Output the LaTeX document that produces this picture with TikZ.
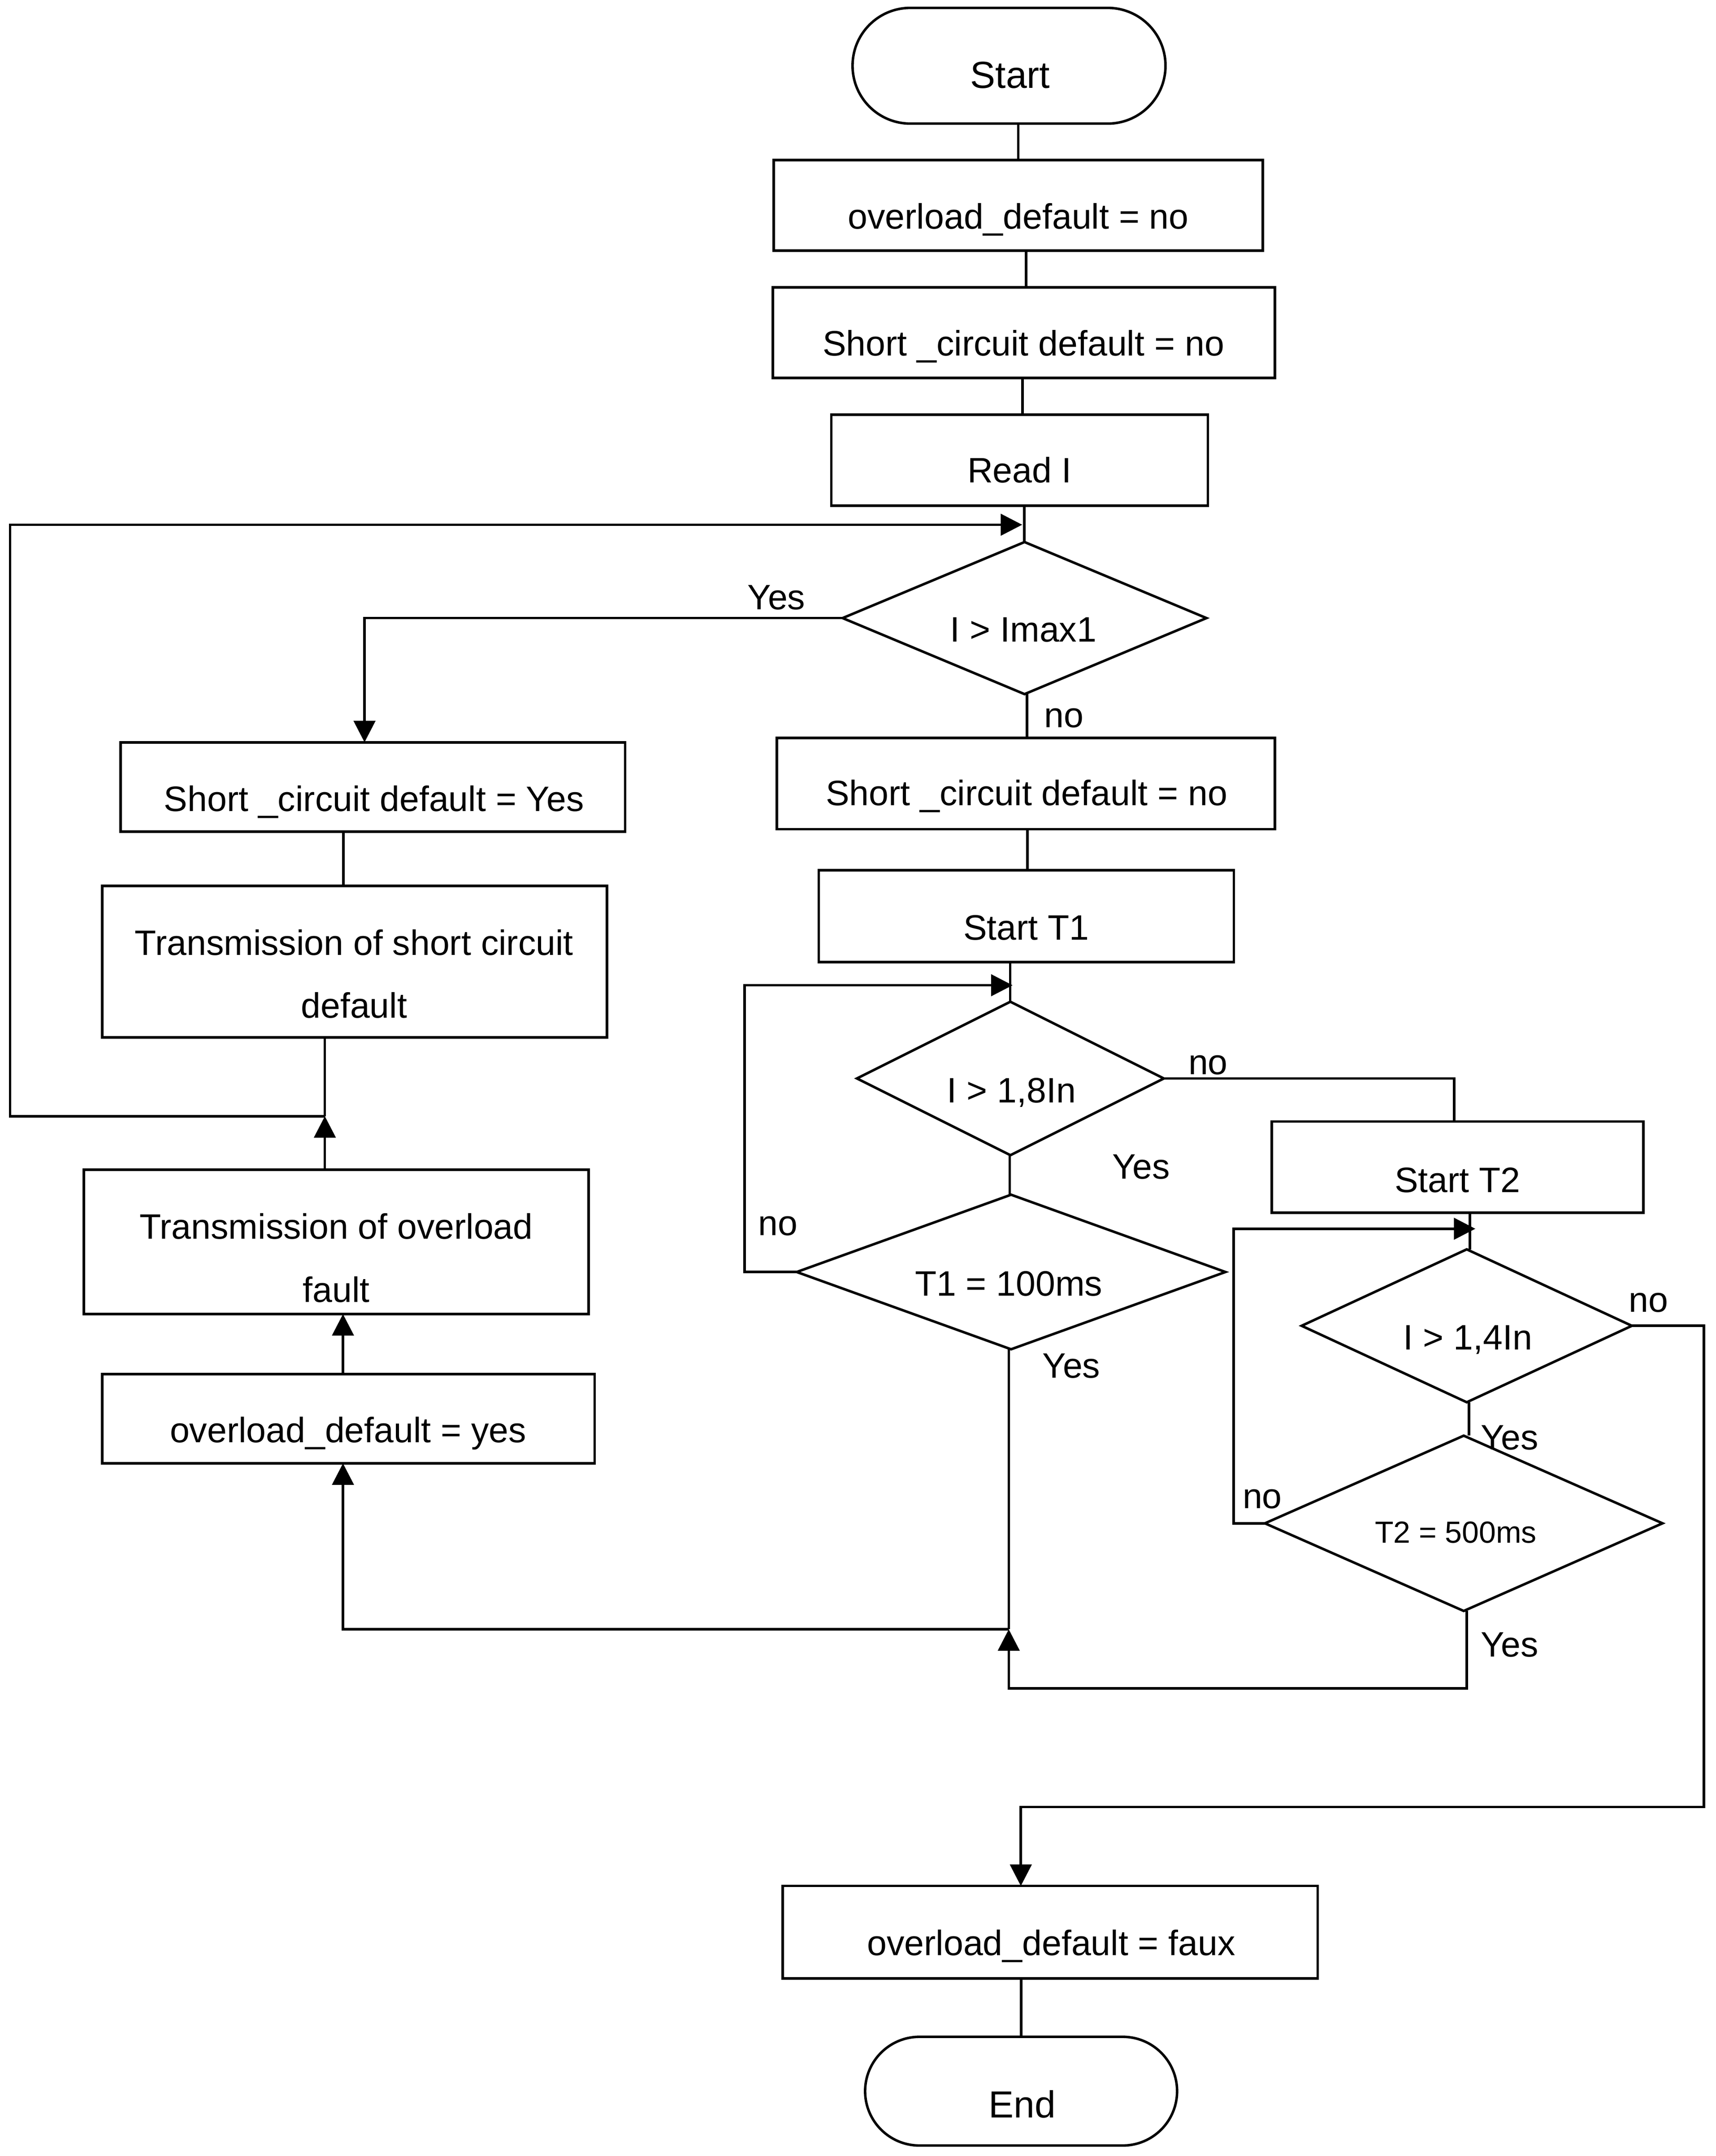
\documentclass[tikz,border=0pt]{standalone}
\usepackage{fontspec}
\setmainfont{Liberation Sans}
\usetikzlibrary{shapes.geometric,arrows.meta}
\begin{document}
\begin{tikzpicture}[x=0.7654pt,y=-0.7654pt,line width=1.4pt,
  sz/.style 2 args={minimum width=#1*0.7654pt,minimum height=#2*0.7654pt},
  procbox/.style={draw,rectangle,inner sep=0pt,outer sep=0pt},
  termbox/.style={draw,rectangle,inner sep=0pt,outer sep=0pt},
  decbox/.style={draw,diamond,inner sep=0pt,outer sep=0pt},
  txt/.style={font=\fontsize{19.7}{35.2}\selectfont,anchor=base,inner sep=0pt},
  bigtxt/.style={font=\fontsize{21}{25}\selectfont,anchor=base,inner sep=0pt},
  smalltxt/.style={font=\fontsize{17}{20}\selectfont,anchor=base,inner sep=0pt},
  lbl/.style={font=\fontsize{19.7}{24}\selectfont,anchor=base west,inner sep=0pt},
  arr/.style={-{Triangle[length=12pt,width=12pt]}}]
\useasboundingbox (0,0) rectangle (1250,1570.75);

% ---------- shapes ----------
\node[termbox,rounded corners=32.2pt,sz={228}{84.3}] (start) at (735.2,47.9) {};
\node[procbox,sz={356.3}{66}] (b1) at (741.9,149.6) {};
\node[procbox,sz={365.9}{66}] (b2) at (746,242.3) {};
\node[procbox,sz={274.3}{66.3}] (b3) at (742.9,335.2) {};
\node[decbox,sz={265.1}{110.8}] (d1) at (746.5,450.3) {};
\node[procbox,sz={362.9}{66.5}] (b4) at (747.5,570.9) {};
\node[procbox,sz={302.4}{66.9}] (b5) at (747.8,667.4) {};
\node[decbox,sz={223.6}{111.8}] (d2) at (736.2,785.7) {};
\node[decbox,sz={312.4}{112.6}] (d3) at (736.7,926.7) {};
\node[procbox,sz={270.7}{66.5}] (b6) at (1062,850.3) {};
\node[decbox,sz={240.6}{111.4}] (d4) at (1068.7,965.9) {};
\node[decbox,sz={289.7}{127.7}] (d5) at (1066.5,1109.8) {};
\node[procbox,sz={389.7}{67.4}] (b7) at (765.2,1407.7) {};
\node[termbox,rounded corners=30.3pt,sz={227.3}{79.2}] (end) at (744,1523.5) {};
\node[procbox,sz={367.5}{65}] (L1) at (271.7,573.3) {};
\node[procbox,sz={367.8}{110.5}] (L2) at (258.4,700.6) {};
\node[procbox,sz={367.9}{105.1}] (L3) at (245,904.8) {};
\node[procbox,sz={358.8}{65}] (L4) at (253.9,1033.6) {};

% ---------- texts ----------
\node[bigtxt] (tstart) at (736,64.3) {Start};
\node[txt] (tb1) at (742,166.7) {overload\_default = no};
\node[txt] (tb2) at (745.7,259.3) {Short \_circuit default = no};
\node[txt] (tb3) at (742.8,351.6) {Read I};
\node[txt] (td1) at (745.7,467.6) {I > Imax1};
\node[txt] (tb4) at (748,586.9) {Short \_circuit default = no};
\node[txt] (tb5) at (747.8,684.8) {Start T1};
\node[txt] (td2) at (737,803.3) {I > 1,8In};
\node[txt] (td3) at (735,944) {T1 = 100ms};
\node[txt] (tb6) at (1062,868.5) {Start T2};
\node[txt] (td4) at (1069.5,983.4) {I > 1,4In};
\node[smalltxt] (td5) at (1060.7,1124) {T2 = 500ms};
\node[txt] (tb7) at (766,1424.5) {overload\_default = faux};
\node[bigtxt] (tend) at (744.8,1542.8) {End};
\node[txt] (tL1) at (272.5,591) {Short \_circuit default = Yes};
\node[txt,align=center] (tL2) at (258,741.7) {Transmission of short circuit\\default};
\node[txt,align=center] (tL3) at (245,948.6) {Transmission of overload\\fault};
\node[txt] (tL4) at (253.7,1051) {overload\_default = yes};

% ---------- branch labels ----------
\node[lbl] (y1) at (543.8,444) {Yes};
\node[lbl] (n1) at (760,530) {no};
\node[lbl] (n2) at (865,782.6) {no};
\node[lbl] (y2) at (809.6,859) {Yes};
\node[lbl] (n3) at (551.7,900) {no};
\node[lbl] (y3) at (758.7,1004) {Yes};
\node[lbl] (n4) at (1185.8,956) {no};
\node[lbl] (y4) at (1078,1056) {Yes};
\node[lbl] (n5) at (904.5,1098.8) {no};
\node[lbl] (y5) at (1078,1207) {Yes};

% ---------- junctions ----------
\coordinate (J1) at (236.7,813.2);
\coordinate (T1) at (744.8,382.3);
\coordinate (J2) at (735,1187);
\coordinate (J3) at (735,1230);
\coordinate (K1) at (737.8,717.8);
\coordinate (K2) at (1075,895.2);

% ---------- connectors ----------
\draw (start.south -| 741.9,0) -- (b1.north -| 741.9,0);
\draw (b1.south -| 747.7,0) -- (b2.north -| 747.7,0);
\draw (b2.south -| 745.1,0) -- (b3.north -| 745.1,0);
\draw (b3.south -| 746.3,0) -- (d1.north -| 746.3,0);

\draw (L2.south -| J1) -- (J1);
\draw[arr] (L3.north -| J1) -- (J1);
\draw[arr] (J1) -- (7.4,813.2) -- (7.4,382.3) -- (T1);

\draw[arr] (d1.west) -| (L1.north -| 265.6,0);
\draw (d1.south -| 748.2,0) -- (b4.north -| 748.2,0);
\draw (L1.south -| 250.2,0) -- (L2.north -| 250.2,0);
\draw[arr] (L4.north -| 249.9,0) -- (L3.south -| 249.9,0);
\draw[arr] (J2) -- (249.9,1187) -- (L4.south -| 249.9,0);
\draw (d3.south -| J2) -- (J2);
\draw[arr] (d5.south -| 1068.8,0) -- (1068.8,1230) -- (J3) -- (J2);

\draw (b4.south -| 748.7,0) -- (b5.north -| 748.7,0);
\draw (b5.south -| 736,0) -- (d2.north -| 736,0);
\draw[arr] (d3.west) -- (542.5,926.7) -- (542.5,717.8) -- (K1);
\draw (d2.south -| 735.7,0) -- (d3.north -| 735.7,0);
\draw (d2.east) -| (b6.north -| 1059.5,0);
\draw (b6.south -| 1071,0) -- (d4.north -| 1071,0);
\draw[arr] (d5.west) -- (898.9,1109.8) -- (898.9,895.2) -- (K2);
\draw (d4.south -| 1070.4,0) -- (d5.north -| 1070.4,0);
\draw[arr] (d4.east) -- (1241.4,965.9) -- (1241.4,1316.4) -- (743.8,1316.4) -- (b7.north -| 743.8,0);
\draw (b7.south -| 744,0) -- (end.north -| 744,0);
\end{tikzpicture}
\end{document}
